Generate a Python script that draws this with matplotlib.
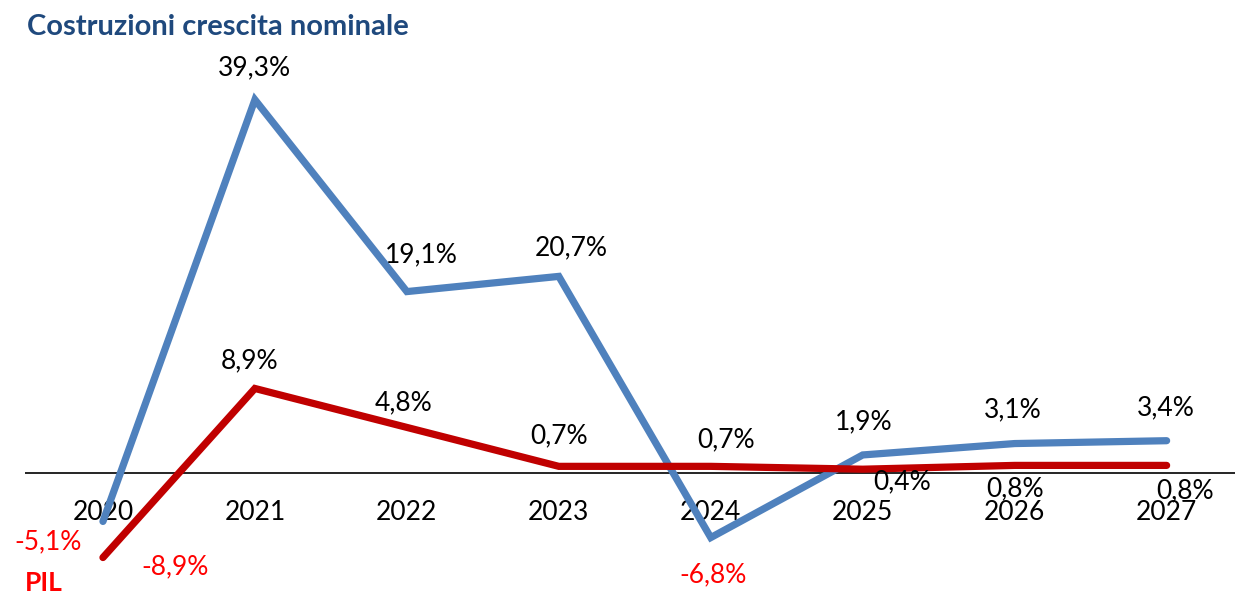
import matplotlib
matplotlib.use("Agg")
import matplotlib.pyplot as plt

plt.rcParams['font.family'] = ['Lato', 'DejaVu Sans']

years = ["2020", "2021", "2022", "2023", "2024", "2025", "2026", "2027"]
costruzioni = [-5.1, 39.3, 19.1, 20.7, -6.8, 1.9, 3.1, 3.4]
pil = [-8.9, 8.9, 4.8, 0.7, 0.7, 0.4, 0.8, 0.8]

blue_offsets = [(-55, -20), (0, 32), (14, 37), (12, 29), (2, -37), (1, 33), (-2, 34), (-1, 33)]
red_offsets = [(72, -9), (-5, 28), (-3, 25), (0, 31), (15, 27), (39, -13), (0, -23), (18, -25)]

fig = plt.figure(figsize=(12.35, 5.94), dpi=100)
ax = fig.add_axes([25 / 1235, 0, 1 - 25 / 1235, 1])
x = list(range(len(years)))

ax.plot(x, costruzioni, color='#4F81BD', lw=5.2, solid_capstyle='round', solid_joinstyle='miter', zorder=3)
ax.plot(x, pil, color='#C00000', lw=5.2, solid_capstyle='round', solid_joinstyle='miter', zorder=4)
ax.axhline(0, color='black', lw=1.2, zorder=2)

def fmt(v):
    return f"{v:.1f}".replace('.', ',') + '%'

FS = 19
for i, v in enumerate(costruzioni):
    ax.annotate(fmt(v), (i, v), xytext=blue_offsets[i], textcoords='offset pixels',
                ha='center', va='center', fontsize=FS,
                color='#FF0000' if v < 0 else 'black', zorder=5)
for i, v in enumerate(pil):
    ax.annotate(fmt(v), (i, v), xytext=red_offsets[i], textcoords='offset pixels',
                ha='center', va='center', fontsize=FS,
                color='#FF0000' if v < 0 else 'black', zorder=5)
for i, y in enumerate(years):
    ax.annotate(y, (i, 0), xytext=(0, -40), textcoords='offset pixels',
                ha='center', va='center', fontsize=FS, color='black', zorder=1)

ax.set_xlim(-0.513, 7.45)
ax.set_ylim(-12.74, 49.8)
ax.axis('off')

fig.text(27 / 1235, 1 - 27 / 594, "Costruzioni crescita nominale", ha='left', va='center',
         fontsize=21, fontweight='bold', color='#1F497D')
fig.text(25 / 1235, 1 - 583 / 594, "PIL", ha='left', va='center',
         fontsize=19, fontweight='bold', color='#FF0000')

fig.savefig("out.png", dpi=100)
